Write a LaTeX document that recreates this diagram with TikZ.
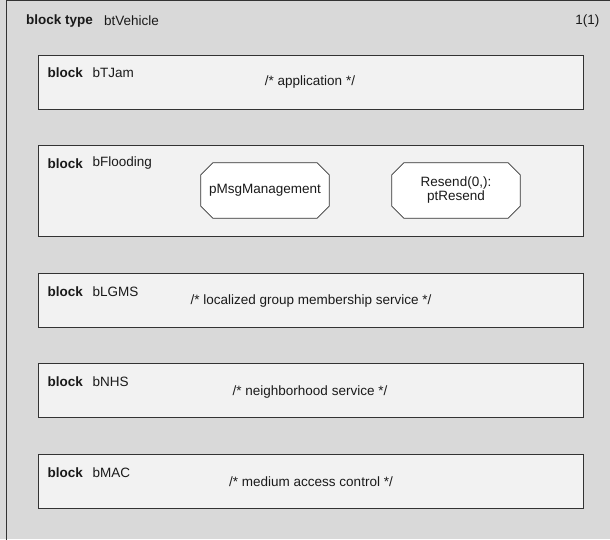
\documentclass[tikz,border=0pt]{standalone}
\usepackage{fontspec}
\setmainfont{Liberation Sans}
\usetikzlibrary{calc}
\definecolor{framebg}{HTML}{D9D9D9}
\definecolor{blockbg}{HTML}{F2F2F2}
\definecolor{lineclr}{HTML}{333333}
\definecolor{txtclr}{HTML}{1A1A1A}
\newcommand{\octoproc}[1]{%
  \draw[draw=lineclr, line width=0.8pt, fill=white]
    ($(#1.north west)+(12,0)$) -- ($(#1.north east)+(-12,0)$) --
    ($(#1.north east)+(0,12)$) -- ($(#1.south east)+(0,-12)$) --
    ($(#1.south east)+(-12,0)$) -- ($(#1.south west)+(12,0)$) --
    ($(#1.south west)+(0,-12)$) -- ($(#1.north west)+(0,12)$) -- cycle;}
\begin{document}
\begin{tikzpicture}[x=1pt,y=-1pt,
  every node/.style={font=\fontsize{13.5}{14}\selectfont, text=txtclr, inner sep=0pt},
  blockbox/.style={draw=lineclr, line width=1.2pt, fill=blockbg, anchor=north west, minimum width=544.5pt},
  kw/.style={anchor=west, font=\fontsize{13.5}{14}\selectfont\bfseries},
  nm/.style={anchor=west},
  cmt/.style={anchor=center},
  procbox/.style={draw=none, minimum width=128pt, minimum height=55pt},
  proctext/.style={align=center}
]
\useasboundingbox (0,0) rectangle (610,539);
\fill[framebg] (0,0) rectangle (610,539);
\draw[lineclr, line width=1.2pt] (6.5,545) -- (6.5,0.6) -- (615,0.6);

\node[kw] (bt) at (26,21) {block type};
\node[nm] (btn) at (104,21) {btVehicle};
\node[anchor=east] (pg) at (599.5,21) {1(1)};

% bTJam
\node[blockbox, minimum height=54pt] (b1) at (38,54.5) {};
\node[kw] (k1) at (47.5,73) {block};
\node[nm] (n1) at (92.5,73) {bTJam};
\node[cmt] (c1) at (310,82.5) {/* application */};

% bFlooding
\node[blockbox, minimum height=91pt] (b2) at (38,145) {};
\node[kw] (k2) at (47.5,163.5) {block};
\node[nm] (n2) at (92.5,163.5) {bFlooding};
\node[procbox] (p1) at (265,190.5) {};
\octoproc{p1}
\node[proctext] (p1t) at (p1.center) {pMsgManagement};
\node[procbox] (p2) at (456,190.5) {};
\octoproc{p2}
\node[proctext] (p2t) at (p2.center) {Resend(0,):\\ptResend};

% bLGMS
\node[blockbox, minimum height=54pt] (b3) at (38,272.5) {};
\node[kw] (k3) at (47.5,291.5) {block};
\node[nm] (n3) at (92.5,291.5) {bLGMS};
\node[cmt] (c3) at (311,301) {/* localized group membership service */};

% bNHS
\node[blockbox, minimum height=54pt] (b4) at (38,363) {};
\node[kw] (k4) at (47.5,382) {block};
\node[nm] (n4) at (92.5,382) {bNHS};
\node[cmt] (c4) at (310,392) {/* neighborhood service */};

% bMAC
\node[blockbox, minimum height=54pt] (b5) at (38,454) {};
\node[kw] (k5) at (47.5,472.5) {block};
\node[nm] (n5) at (92.5,472.5) {bMAC};
\node[cmt] (c5) at (311,482) {/* medium access control */};
\end{tikzpicture}
\end{document}
